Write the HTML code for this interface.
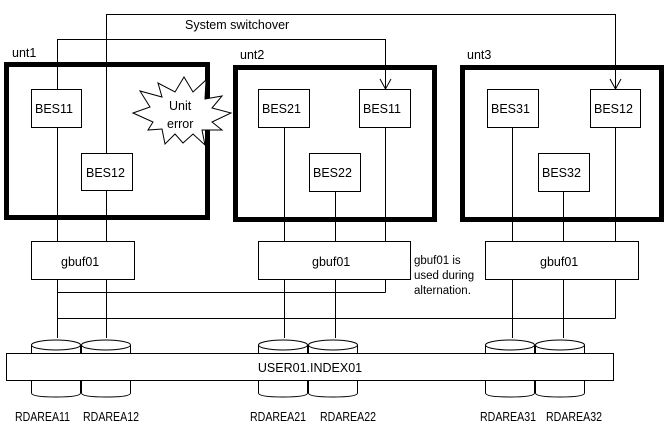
<!DOCTYPE html>
<html><head><meta charset="utf-8"><style>
body{margin:0;background:#fff;}
svg{display:block;}
text{font-family:"Liberation Sans",sans-serif;font-size:12.5px;fill:#000;}
</style></head><body>
<svg width="668" height="434" viewBox="0 0 668 434" xmlns="http://www.w3.org/2000/svg">
<g fill="none" stroke="#000" stroke-width="1">
<polyline points="106.5,300 106.5,14.5 615.5,14.5 615.5,88"/>
<polyline points="57.5,338 57.5,39.5 385.5,39.5 385.5,88"/>
<polyline points="380,79 385.5,89 391,79"/>
<polyline points="610,79 615.5,89 621,79"/>
<line x1="284.5" y1="127" x2="284.5" y2="338"/>
<line x1="335.5" y1="190" x2="335.5" y2="338"/>
<line x1="385.5" y1="127" x2="385.5" y2="292.5"/>
<line x1="512.5" y1="127" x2="512.5" y2="338"/>
<line x1="563.5" y1="190" x2="563.5" y2="338"/>
<line x1="615.5" y1="127" x2="615.5" y2="318.5"/>
<polyline points="57.5,292.5 385.5,292.5"/>
<polyline points="57.5,318.5 615.5,318.5"/>
<line x1="106.5" y1="280" x2="106.5" y2="338"/>
</g>
<g fill="none" stroke="#000" stroke-width="5">
<rect x="6.5" y="64.5" width="201" height="153"/>
<rect x="235.5" y="67.5" width="199" height="152"/>
<rect x="462.5" y="67.5" width="199" height="152"/>
</g>
<g fill="#fff" stroke="#000" stroke-width="1">
<rect x="31.5" y="89.5" width="50" height="38"/>
<rect x="81.5" y="153.5" width="51" height="37"/>
<rect x="258.5" y="89.5" width="51" height="38"/>
<rect x="359.5" y="89.5" width="51" height="38"/>
<rect x="309.5" y="153.5" width="51" height="38"/>
<rect x="487.5" y="89.5" width="51" height="38"/>
<rect x="590.5" y="89.5" width="50" height="38"/>
<rect x="538.5" y="153.5" width="51" height="38"/>
<rect x="31.5" y="241.5" width="103" height="38"/>
<rect x="258.5" y="241.5" width="152" height="38"/>
<rect x="485.5" y="241.5" width="153" height="38"/>
<polygon points="133,113 150,107 140,91 162,97 158,83 175,92 184,77 193,92 206,80 205,99 222,96 212,108 231,113 212,122 222,130 202,130 205,145 193,134 183,143 175,134 165,144 162,129 148,130 153,122"/>
</g>
<g fill="#fff" stroke="#000" stroke-width="1">
<path d="M31.5,345 v48 q0,4 24.5,4 q24.5,0 24.5,-4 v-48"/><ellipse cx="56" cy="345" rx="24.5" ry="5"/>
<path d="M81.5,345 v48 q0,4 24.5,4 q24.5,0 24.5,-4 v-48"/><ellipse cx="106" cy="345" rx="24.5" ry="5"/>
<path d="M258.5,345 v48 q0,4 24.5,4 q24.5,0 24.5,-4 v-48"/><ellipse cx="283" cy="345" rx="24.5" ry="5"/>
<path d="M308.5,345 v48 q0,4 24.5,4 q24.5,0 24.5,-4 v-48"/><ellipse cx="333" cy="345" rx="24.5" ry="5"/>
<path d="M485.5,345 v48 q0,4 24.5,4 q24.5,0 24.5,-4 v-48"/><ellipse cx="510" cy="345" rx="24.5" ry="5"/>
<path d="M535.5,345 v48 q0,4 24.5,4 q24.5,0 24.5,-4 v-48"/><ellipse cx="560" cy="345" rx="24.5" ry="5"/>
<rect x="6.5" y="353.5" width="607" height="27"/>
</g>
<text x="185" y="29">System switchover</text>
<text x="12" y="57">unt1</text>
<text x="240" y="59">unt2</text>
<text x="467" y="59">unt3</text>
<text x="35" y="113">BES11</text>
<text x="86" y="177">BES12</text>
<text x="262" y="113">BES21</text>
<text x="363" y="113">BES11</text>
<text x="313" y="177">BES22</text>
<text x="491" y="113">BES31</text>
<text x="594" y="113">BES12</text>
<text x="542" y="177">BES32</text>
<text x="169" y="110">Unit</text>
<text x="167" y="128">error</text>
<text x="61" y="266">gbuf01</text>
<text x="312" y="266">gbuf01</text>
<text x="540" y="266">gbuf01</text>
<text x="414" y="264" style="font-size:11.5px">gbuf01 is</text>
<text x="414" y="279" style="font-size:11.5px">used during</text>
<text x="414" y="294" style="font-size:11.5px">alternation.</text>
<text x="310" y="372" text-anchor="middle">USER01.INDEX01</text>
<g style="font-size:10.5px">
<text x="15" y="421" textLength="55" lengthAdjust="spacingAndGlyphs">RDAREA11</text>
<text x="83" y="421" textLength="56" lengthAdjust="spacingAndGlyphs">RDAREA12</text>
<text x="250" y="421" textLength="56" lengthAdjust="spacingAndGlyphs">RDAREA21</text>
<text x="320" y="421" textLength="56" lengthAdjust="spacingAndGlyphs">RDAREA22</text>
<text x="480" y="421" textLength="56" lengthAdjust="spacingAndGlyphs">RDAREA31</text>
<text x="546" y="421" textLength="56" lengthAdjust="spacingAndGlyphs">RDAREA32</text>
</g>
</svg>
</body></html>
